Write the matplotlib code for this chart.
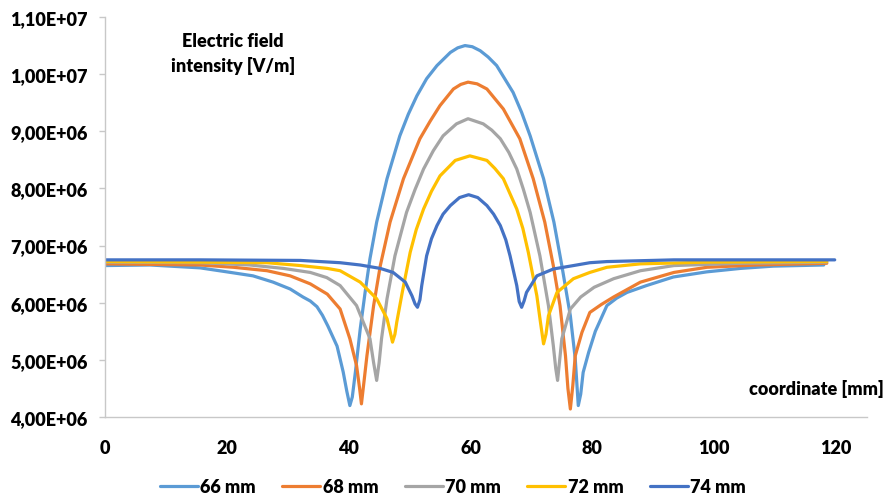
import numpy as np
import matplotlib
matplotlib.use("Agg")
import matplotlib.pyplot as plt
import matplotlib.ticker as ticker

# values (field in 1e6 V/m)
x_66 = [0, 7.4, 15.6, 20.0, 24.3, 27.6, 30.4, 32.5, 33.7, 34.8, 35.7, 36.6, 38.1, 39.1, 39.7, 40.2,
        40.6, 41.1, 41.9, 42.7, 43.5, 44.6, 46.3, 48.4, 49.8, 51.2, 52.8, 54.5, 56.7, 57.9, 59.1,
        60.3, 61.6, 62.9, 64.3, 67.0, 68.4, 69.8, 72.0, 73.7, 75.0, 76.4, 77.2, 77.7, 78.1, 78.5,
        79.4, 80.5, 82.4, 84.0, 85.7, 88.9, 93.3, 98.8, 104.3, 109.7, 118.0]
e_66 = [6.65, 6.66, 6.61, 6.54, 6.47, 6.36, 6.24, 6.10, 6.03, 5.93, 5.78, 5.59, 5.24, 4.79, 4.45, 4.20,
        4.35, 4.78, 5.54, 6.18, 6.77, 7.41, 8.17, 8.92, 9.30, 9.62, 9.92, 10.15, 10.38, 10.46, 10.50,
        10.48, 10.41, 10.30, 10.15, 9.68, 9.33, 8.92, 8.17, 7.41, 6.65, 5.77, 5.02, 4.20, 4.40, 4.78,
        5.13, 5.50, 5.95, 6.08, 6.18, 6.30, 6.45, 6.54, 6.60, 6.64, 6.66]

x_68 = [0, 15.6, 21.1, 26.6, 30.4, 33.7, 36.5, 38.6, 40.2, 41.3, 41.8, 42.1, 42.5, 43.0, 44.1, 45.2,
        46.8, 49.0, 51.7, 53.4, 55.0, 57.2, 58.4, 59.6, 61.1, 62.7, 65.4, 68.1, 70.3, 72.2, 73.6,
        74.7, 75.6, 76.0, 76.4, 76.8, 77.2, 78.3, 79.6, 81.5, 83.5, 87.9, 93.4, 98.8, 107.0, 118.5]
e_68 = [6.68, 6.66, 6.62, 6.56, 6.47, 6.33, 6.15, 5.89, 5.37, 4.90, 4.50, 4.23, 4.60, 5.07, 5.95, 6.65,
        7.41, 8.17, 8.87, 9.18, 9.45, 9.74, 9.82, 9.86, 9.83, 9.74, 9.39, 8.87, 8.17, 7.41, 6.65,
        5.95, 5.07, 4.50, 4.14, 4.55, 5.07, 5.48, 5.83, 5.97, 6.10, 6.36, 6.53, 6.62, 6.66, 6.69]

x_70 = [0, 15.6, 23.8, 29.3, 33.7, 36.4, 38.6, 41.3, 43.5, 44.1, 44.6, 45.0, 45.4, 46.3, 47.6, 49.5,
        50.9, 52.3, 53.9, 55.5, 57.7, 59.6, 62.1, 63.5, 64.9, 66.3, 67.6, 68.7, 69.8, 71.4, 72.8,
        73.6, 74.0, 74.3, 74.6, 75.0, 76.4, 78.1, 80.3, 83.5, 87.9, 93.4, 104.3, 118.5]
e_70 = [6.71, 6.70, 6.66, 6.60, 6.53, 6.44, 6.30, 5.95, 5.37, 4.95, 4.64, 4.95, 5.37, 6.07, 6.82, 7.58,
        7.98, 8.34, 8.66, 8.92, 9.13, 9.22, 9.13, 9.02, 8.87, 8.63, 8.34, 7.98, 7.58, 6.82, 5.95,
        5.25, 4.85, 4.64, 4.95, 5.37, 5.89, 6.10, 6.27, 6.42, 6.56, 6.65, 6.69, 6.71]

x_72 = [0, 15.6, 26.6, 32.1, 36.5, 38.6, 41.9, 44.6, 46.3, 46.8, 47.2, 47.6, 47.9, 48.8, 50.1, 51.1,
        52.3, 53.6, 55.0, 57.5, 59.9, 62.7, 64.0, 65.4, 67.6, 68.6, 69.5, 70.9, 71.5, 72.0, 72.4,
        72.8, 74.2, 76.9, 79.6, 82.4, 87.9, 98.8, 118.5]
e_72 = [6.72, 6.71, 6.70, 6.65, 6.60, 6.56, 6.36, 6.07, 5.72, 5.50, 5.31, 5.45, 5.66, 6.18, 6.88, 7.28,
        7.64, 7.95, 8.22, 8.49, 8.57, 8.49, 8.35, 8.17, 7.64, 7.30, 6.88, 6.12, 5.65, 5.28, 5.45,
        5.77, 6.18, 6.42, 6.53, 6.62, 6.68, 6.71, 6.72]

x_74 = [0, 15.6, 32.1, 38.6, 41.9, 45.2, 47.3, 49.3, 50.4, 50.9, 51.3, 51.7, 52.0, 52.8, 53.6, 54.5,
        55.5, 56.7, 58.2, 59.7, 61.2, 62.7, 63.8, 64.9, 65.8, 66.5, 67.6, 68.0, 68.4, 68.8, 69.2,
        70.9, 73.6, 76.9, 79.6, 82.4, 93.4, 119.8]
e_74 = [6.75, 6.75, 6.74, 6.70, 6.66, 6.60, 6.53, 6.36, 6.12, 5.98, 5.92, 6.05, 6.30, 6.82, 7.12, 7.35,
        7.55, 7.70, 7.84, 7.89, 7.84, 7.70, 7.55, 7.35, 7.10, 6.82, 6.30, 6.02, 5.92, 6.03, 6.18,
        6.47, 6.59, 6.65, 6.70, 6.72, 6.75, 6.75]

labels = ["66 mm", "68 mm", "70 mm", "72 mm", "74 mm"]
colors = ["#5B9BD5", "#ED7D31", "#A5A5A5", "#FFC000", "#4472C4"]
xs = [x_66, x_68, x_70, x_72, x_74]
es = [e_66, e_68, e_70, e_72, e_74]

x_ticks = [0, 20, 40, 60, 80, 100, 120]
y_ticks = [4e6, 5e6, 6e6, 7e6, 8e6, 9e6, 1e7, 1.1e7]

plt.rcParams['font.family'] = ['Lato', 'DejaVu Sans']
fs = 13
fw = 'heavy'

fig = plt.figure(figsize=(8.9, 5.02), dpi=100)
ax = fig.add_axes([105 / 890, 84 / 502, 762 / 890, 400 / 502])

for x, e, lab, c in zip(xs, es, labels, colors):
    ax.plot(x, np.array(e) * 1e6, color=c, lw=2.3, label=lab,
            solid_joinstyle='round', solid_capstyle='round')

ax.set_xlim(0, 125.1)
ax.set_ylim(4e6, 1.1e7)
ax.set_xticks(x_ticks)
ax.set_yticks(y_ticks)
ax.yaxis.set_major_formatter(ticker.FuncFormatter(lambda v, p: f"{v:.2E}".replace('.', ',')))

for s in ['top', 'right']:
    ax.spines[s].set_visible(False)
for s in ['left', 'bottom']:
    ax.spines[s].set_color('#c8c8c8')
    ax.spines[s].set_linewidth(1.0)

ax.tick_params(axis='y', length=4.5, width=1.0, color='#c8c8c8', pad=8, labelsize=fs)
ax.tick_params(axis='x', length=0, pad=16, labelsize=fs)
for t in ax.get_xticklabels() + ax.get_yticklabels():
    t.set_fontweight(fw)

fig.text(233 / 890, 1 - 54 / 502, "Electric field\nintensity [V/m]", ha='center', va='center',
         fontsize=fs, fontweight=fw, linespacing=1.45)
fig.text(816 / 890, 1 - 389 / 502, "coordinate [mm]", ha='center', va='center',
         fontsize=fs, fontweight=fw)

fig.legend(loc='center', bbox_to_anchor=(453 / 890, 1 - 488 / 502), ncol=5, frameon=False,
           handlelength=2.1, handletextpad=0.15, columnspacing=1.45,
           prop={'weight': fw, 'size': fs, 'family': ['Lato', 'DejaVu Sans']})

fig.savefig("out.png", dpi=100)
